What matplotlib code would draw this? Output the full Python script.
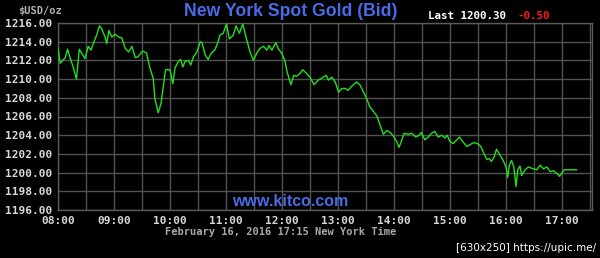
import matplotlib
matplotlib.use("Agg")
import matplotlib.pyplot as plt
import numpy as np

# time in decimal hours (New York time), bid price
hours = [8.00, 8.04, 8.13, 8.17, 8.21, 8.27, 8.33, 8.38, 8.42, 8.48, 8.54, 8.59, 8.63, 8.69,
         8.74, 8.78, 8.84, 8.87, 8.91, 8.96, 9.02, 9.08, 9.14, 9.20, 9.26, 9.32, 9.38, 9.43,
         9.51, 9.58, 9.64, 9.70, 9.73, 9.79, 9.84, 9.88, 9.92, 10.00, 10.05, 10.09, 10.15,
         10.19, 10.23, 10.27, 10.33, 10.37, 10.42, 10.48, 10.54, 10.57, 10.63, 10.68, 10.74,
         10.80, 10.86, 10.89, 10.95, 11.01, 11.06, 11.13, 11.18, 11.24, 11.30, 11.37, 11.43,
         11.49, 11.56, 11.61, 11.67, 11.73, 11.77, 11.82, 11.89, 11.93, 11.99, 12.05, 12.09,
         12.16, 12.21, 12.26, 12.32, 12.37, 12.44, 12.51, 12.57, 12.65, 12.71, 12.79, 12.83,
         12.89, 12.95, 13.01, 13.07, 13.13, 13.18, 13.24, 13.33, 13.39, 13.45, 13.52, 13.57,
         13.64, 13.70, 13.75, 13.81, 13.87, 13.93, 13.99, 14.05, 14.09, 14.14, 14.18, 14.26,
         14.32, 14.39, 14.45, 14.49, 14.55, 14.61, 14.67, 14.73, 14.79, 14.85, 14.91, 14.95,
         15.00, 15.06, 15.12, 15.17, 15.23, 15.30, 15.36, 15.42, 15.49, 15.55, 15.61, 15.66,
         15.70, 15.74, 15.79, 15.83, 15.89, 15.95, 16.00, 16.03, 16.06, 16.10, 16.14, 16.18,
         16.21, 16.25, 16.28, 16.34, 16.40, 16.49, 16.55, 16.61, 16.67, 16.73, 16.79, 16.85,
         16.91, 16.96, 16.99, 17.04, 17.14, 17.26]
prices = [1213.3, 1211.7, 1212.3, 1213.2, 1212.4, 1211.3, 1210.0, 1213.2, 1212.8, 1212.2,
          1213.5, 1213.1, 1213.8, 1214.7, 1215.7, 1215.4, 1214.5, 1213.8, 1215.2, 1214.5,
          1214.8, 1214.5, 1214.4, 1213.3, 1212.9, 1213.5, 1212.3, 1212.4, 1213.0, 1212.8,
          1211.2, 1210.1, 1207.9, 1206.4, 1207.4, 1209.2, 1211.0, 1211.0, 1209.5, 1211.2,
          1211.9, 1212.1, 1211.3, 1211.9, 1212.0, 1211.5, 1212.4, 1212.9, 1214.0, 1213.9,
          1212.6, 1212.1, 1212.8, 1213.1, 1214.0, 1214.7, 1214.9, 1215.9, 1214.3, 1214.7,
          1215.7, 1214.9, 1215.9, 1214.2, 1212.9, 1212.0, 1212.9, 1213.3, 1213.5, 1213.1,
          1213.6, 1213.1, 1213.9, 1213.3, 1212.8, 1212.0, 1210.8, 1209.4, 1210.4, 1210.3,
          1210.6, 1211.0, 1210.6, 1210.1, 1209.4, 1209.9, 1210.1, 1210.4, 1209.9, 1210.2,
          1209.7, 1208.6, 1209.0, 1209.0, 1208.8, 1209.2, 1209.7, 1209.4, 1208.7, 1207.8,
          1207.0, 1206.5, 1206.0, 1205.1, 1204.1, 1204.5, 1204.3, 1203.9, 1203.3, 1202.7,
          1203.5, 1204.2, 1204.1, 1204.2, 1203.8, 1204.0, 1204.3, 1203.5, 1203.8, 1204.2,
          1204.4, 1203.8, 1204.0, 1203.7, 1204.0, 1203.3, 1203.1, 1203.5, 1203.8, 1203.3,
          1202.8, 1203.0, 1203.2, 1203.1, 1202.8, 1202.0, 1201.4, 1201.5, 1201.2, 1201.7,
          1202.5, 1201.9, 1201.3, 1200.6, 1199.5, 1200.8, 1201.3, 1200.6, 1198.5, 1200.3,
          1200.7, 1199.7, 1200.3, 1200.6, 1200.4, 1200.3, 1200.8, 1200.4, 1200.6, 1200.1,
          1200.2, 1199.9, 1199.6, 1199.9, 1200.3, 1200.3, 1200.3]

x_ticks = [8, 9, 10, 11, 12, 13, 14, 15, 16, 17]
x_tick_labels = ["08:00", "09:00", "10:00", "11:00", "12:00", "13:00", "14:00", "15:00", "16:00", "17:00"]
y_ticks = [1196, 1198, 1200, 1202, 1204, 1206, 1208, 1210, 1212, 1214, 1216]
y_tick_labels = ["%.2f" % v for v in y_ticks]

title = "New York Spot Gold (Bid)"
last_text = "Last 1200.30"
change_text = "-0.50"
unit_text = "$USD/oz"
site_text = "www.kitco.com"
date_text = "February 16, 2016 17:15 New York Time"
mark_text = "[630x250] https://upic.me/"

fig = plt.figure(figsize=(6.0, 2.58), dpi=100, facecolor="black")
ax = fig.add_axes([58 / 600, 1 - 210 / 258, (592 - 58) / 600, (210 - 23) / 258])
ax.set_facecolor("black")

ax.plot(hours, prices, color="#22e01e", linewidth=1.0, zorder=3)

ax.set_xlim(8.0, 17.536)
ax.set_ylim(1196, 1216)
ax.set_xticks(x_ticks)
ax.set_xticklabels(x_tick_labels)
ax.set_xticks(np.arange(8.5, 17.6, 1.0), minor=True)
ax.set_yticks(y_ticks)
ax.set_yticklabels(y_tick_labels)
ax.grid(True, which="both", color="#525252", linewidth=1.0, zorder=1)
ax.tick_params(which="both", length=0, colors="#d8d8d8", labelsize=8, pad=4)
for lab in ax.get_xticklabels() + ax.get_yticklabels():
    lab.set_family("DejaVu Sans Mono")
    lab.set_weight("bold")
for s in ax.spines.values():
    s.set_color("#5a5a5a")
    s.set_linewidth(1.0)

mono = "DejaVu Sans Mono"
fig.text(291 / 600, 1 - 12 / 258, title, color="#4a6be6", fontsize=12.7, fontweight="bold",
         family="Liberation Sans", ha="center", va="center")
fig.text(428 / 600, 1 - 16 / 258, last_text, color="white", fontsize=7.8, family=mono,
         fontweight="bold", ha="left", va="center")
fig.text(517 / 600, 1 - 16 / 258, change_text, color="#ff1a1a", fontsize=7.8, family=mono,
         fontweight="bold", ha="left", va="center")
fig.text(18 / 600, 1 - 11 / 258, unit_text, color="#b0b0b0", fontsize=7.5, family=mono,
         fontweight="bold", ha="left", va="center")
fig.text(290 / 600, 1 - 201 / 258, site_text, color="#4a6be6", fontsize=11.5, fontweight="bold",
         family="Liberation Sans", ha="center", va="center")
fig.text(281 / 600, 1 - 232 / 258, date_text, color="#a8a8a8", fontsize=7.5, family=mono,
         fontweight="bold", ha="center", va="center")
fig.text(596 / 600, 1 - 248 / 258, mark_text, color="white", fontsize=7.5, family="DejaVu Sans",
         ha="right", va="center")

fig.savefig("out.png", dpi=100, facecolor="black")
